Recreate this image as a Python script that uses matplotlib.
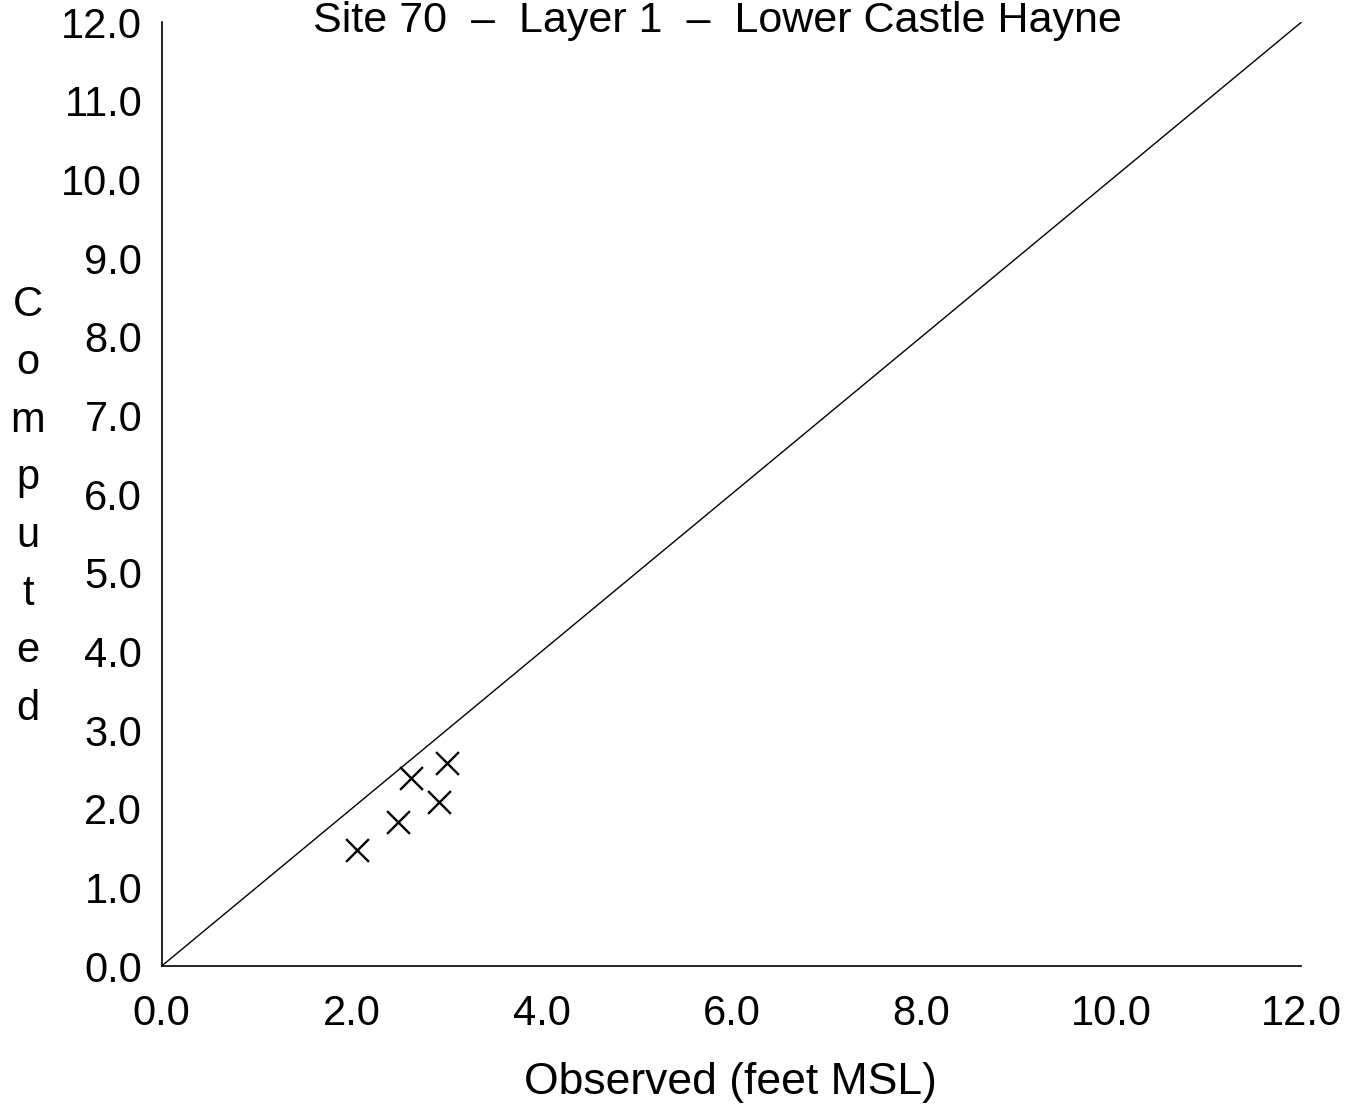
import matplotlib.pyplot as plt

plt.rcParams['font.family'] = ['Liberation Sans', 'DejaVu Sans']

observed = [2.06, 2.49, 2.63, 2.92, 3.00]
computed = [1.47, 1.83, 2.39, 2.08, 2.58]
ticks = [0, 1, 2, 3, 4, 5, 6, 7, 8, 9, 10, 11, 12]
x_ticks = [0, 2, 4, 6, 8, 10, 12]

fig = plt.figure(figsize=(13.7, 11.15), dpi=100)
ax = fig.add_axes([0.118, 0.1336, 0.832, 0.8466])

ax.plot([0, 12], [0, 12], color='black', linewidth=1)
ax.scatter(observed, computed, marker='x', s=270, color='black', linewidths=1.7)

ax.set_xlim(0, 12)
ax.set_ylim(0, 12)
ax.set_xticks(x_ticks)
ax.set_xticklabels([f'{t:.1f}' for t in x_ticks])
ax.set_yticks(ticks)
ax.set_yticklabels([f'{t:.1f}' for t in ticks])
ax.tick_params(length=0, labelsize=30)
ax.tick_params(axis='y', pad=14)
ax.tick_params(axis='x', pad=20)
ax.spines['top'].set_visible(False)
ax.spines['right'].set_visible(False)
ax.spines['left'].set_linewidth(1.2)
ax.spines['bottom'].set_linewidth(1.2)

fig.text(0.533, 0.029, 'Observed (feet MSL)', ha='center', va='center', fontsize=32)
fig.text(0.0204, 0.545, '\n'.join('Computed'), ha='center', va='center', fontsize=30, linespacing=1.57)
fig.text(0.524, 0.999, 'Site 70  \u2013  Layer 1  \u2013  Lower Castle Hayne', ha='center', va='top', fontsize=31)

fig.savefig('out.png', dpi=100)
